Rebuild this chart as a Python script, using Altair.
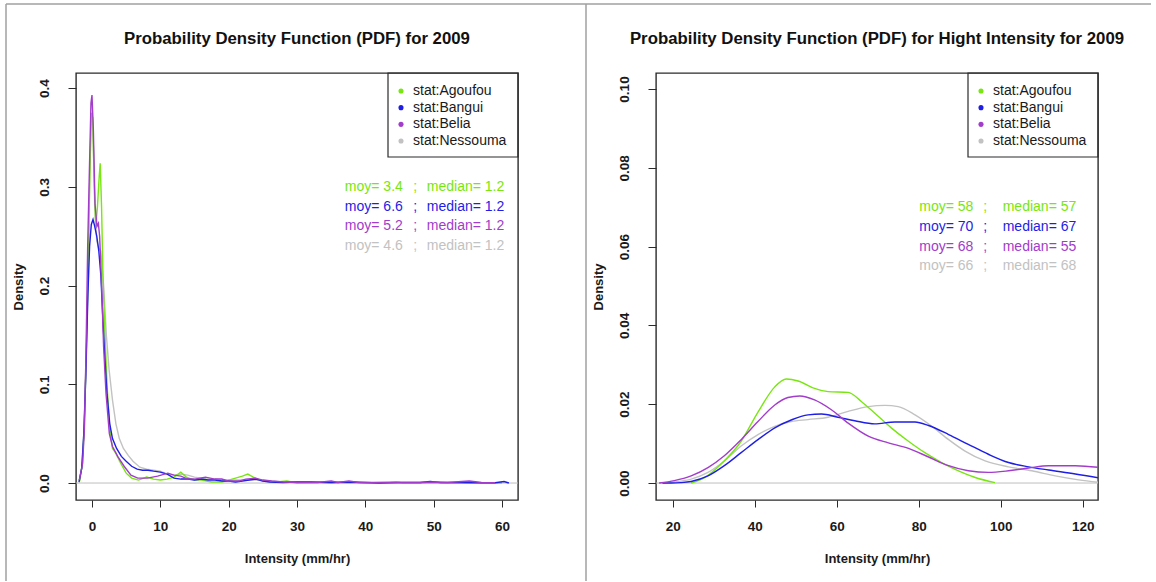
import altair as alt
import pandas as pd

FONT = "Liberation Sans"

stations = ["stat:Agoufou", "stat:Bangui", "stat:Belia", "stat:Nessouma"]
station_colors = ["#78E610", "#1E1EE6", "#A23CCB", "#C2C2C2"]

# ---- density of all 2009 rain intensities (mm/hr) ----
ago_all_x = [-1.8, -1.4, -1.1, -0.85, -0.6, -0.35, -0.1, 0.1, 0.35, 0.55, 0.8, 1.05, 1.2, 1.4, 1.6,
             1.9, 2.2, 2.6, 3.0, 3.5, 4.2, 5.0, 5.8, 6.8, 8.0, 9.0, 10.0, 11.0, 12.0, 13.0, 13.8,
             15.0, 16.0, 17.5, 19.0, 20.0, 21.0, 22.0, 22.8, 23.6, 25.0, 27.0, 28.5, 30.0, 35.0,
             40.0, 44.5, 45.5, 50.0, 55.0, 60.0]
ago_all_y = [0.002, 0.02, 0.06, 0.13, 0.2, 0.3, 0.375, 0.37, 0.3, 0.26, 0.28, 0.31, 0.324, 0.28, 0.21,
             0.15, 0.1, 0.055, 0.035, 0.03, 0.02, 0.01, 0.005, 0.003, 0.006, 0.004, 0.003, 0.004, 0.006,
             0.011, 0.006, 0.003, 0.003, 0.001, 0.001, 0.003, 0.005, 0.007, 0.009, 0.006, 0.002, 0.001,
             0.002, 0.0, 0.0005, 0.0, 0.001, 0.0, 0.0, 0.0, 0.0]

ban_all_x = [-1.9, -1.5, -1.2, -0.9, -0.6, -0.35, -0.1, 0.15, 0.4, 0.7, 1.0, 1.3, 1.6, 1.9, 2.2, 2.6,
             3.0, 3.6, 4.3, 5.0, 5.8, 6.6, 7.4, 8.2, 9.0, 10.0, 11.0, 12.0, 13.0, 14.0, 15.0, 16.0,
             17.0, 18.0, 19.0, 20.0, 21.0, 22.0, 23.0, 24.0, 25.0, 26.0, 28.0, 30.0, 32.0, 35.0, 38.0,
             40.0, 42.0, 45.0, 48.0, 49.5, 51.0, 54.0, 57.0, 59.0, 60.3, 61.0]
ban_all_y = [0.001, 0.015, 0.05, 0.11, 0.19, 0.24, 0.262, 0.267, 0.26, 0.25, 0.235, 0.21, 0.165, 0.125,
             0.09, 0.06, 0.045, 0.035, 0.027, 0.022, 0.017, 0.014, 0.013, 0.013, 0.012, 0.011, 0.009,
             0.005, 0.004, 0.004, 0.003, 0.004, 0.003, 0.003, 0.002, 0.002, 0.001, 0.002, 0.003, 0.004,
             0.002, 0.001, 0.0005, 0.001, 0.001, 0.0005, 0.001, 0.0005, 0.0, 0.0005, 0.0005, 0.0015,
             0.0005, 0.0005, 0.0003, 0.0003, 0.0015, 0.0]

bel_all_x = [-1.85, -1.37, -1.12, -0.88, -0.63, -0.39, -0.15, 0.0, 0.2, 0.44, 0.73, 0.93, 1.12, 1.41,
             1.7, 2.05, 2.54, 3.0, 3.76, 4.7, 5.7, 6.7, 8.1, 9.6, 11.1, 12.0, 13.0, 14.0, 15.0, 16.6,
             18.0, 19.0, 20.0, 21.5, 22.5, 23.9, 25.0, 26.3, 28.0, 30.0, 33.0, 35.0, 36.0, 37.6, 39.0,
             42.0, 45.0, 48.0, 50.0, 52.0, 55.2, 57.0, 59.0]
bel_all_y = [0.003, 0.02, 0.054, 0.13, 0.24, 0.314, 0.385, 0.393, 0.358, 0.283, 0.26, 0.263, 0.25, 0.2,
             0.138, 0.091, 0.05, 0.037, 0.027, 0.017, 0.008, 0.005, 0.005, 0.007, 0.01, 0.008, 0.007,
             0.004, 0.004, 0.006, 0.004, 0.004, 0.002, 0.002, 0.004, 0.005, 0.003, 0.002, 0.001, 0.0005,
             0.0005, 0.002, 0.0005, 0.002, 0.0005, 0.0005, 0.0005, 0.0005, 0.001, 0.0005, 0.002, 0.0005,
             0.0003]

nes_all_x = [-1.9, -1.5, -1.15, -0.85, -0.55, -0.3, -0.1, 0.1, 0.4, 0.7, 1.0, 1.3, 1.7, 2.1, 2.5, 3.0,
             3.5, 4.0, 4.6, 5.3, 6.0, 7.0, 8.0, 9.0, 10.0, 11.0, 12.0, 13.0, 14.0, 15.0, 16.0, 17.0,
             18.0, 19.0, 20.0, 22.0, 24.0, 26.0, 28.0, 30.0, 35.0, 40.0, 50.0, 60.0]
nes_all_y = [0.002, 0.015, 0.055, 0.13, 0.22, 0.32, 0.375, 0.37, 0.28, 0.245, 0.238, 0.235, 0.2, 0.15,
             0.115, 0.084, 0.06, 0.045, 0.035, 0.028, 0.022, 0.016, 0.014, 0.013, 0.012, 0.009, 0.008,
             0.009, 0.008, 0.006, 0.005, 0.004, 0.004, 0.003, 0.003, 0.003, 0.003, 0.002, 0.001, 0.001,
             0.0005, 0.0003, 0.0002, 0.0]

# ---- density of high-intensity events ----
ago_high_x = [24.5, 28.0, 32.0, 36.7, 40.8, 44.9, 47.7, 50.6, 54.6, 57.9, 62.8, 66.0, 69.3, 73.3,
              77.5, 81.5, 85.6, 89.7, 93.8, 98.6]
ago_high_y = [0.0, 0.0015, 0.005, 0.0106, 0.018, 0.0244, 0.0264, 0.0259, 0.024, 0.0232, 0.023,
              0.0207, 0.0177, 0.014, 0.0106, 0.0077, 0.0052, 0.0031, 0.0014, 0.0001]

ban_high_x = [17.5, 19.6, 22.0, 24.5, 28.6, 32.6, 36.7, 40.8, 44.9, 48.9, 53.0, 56.3, 60.3, 64.4,
              69.3, 74.2, 79.1, 82.4, 87.3, 92.1, 97.0, 101.9, 106.8, 111.7, 118.2, 124.5]
ban_high_y = [0.0, 0.0, 0.0001, 0.0004, 0.0018, 0.0044, 0.0077, 0.011, 0.014, 0.016, 0.0173, 0.0175,
              0.0167, 0.0158, 0.015, 0.0155, 0.0155, 0.0146, 0.0123, 0.0098, 0.0073, 0.0052, 0.0041,
              0.0033, 0.0023, 0.0012]

bel_high_x = [16.7, 20.4, 24.5, 28.6, 32.6, 36.7, 40.8, 44.9, 48.1, 51.0, 54.6, 58.7, 62.8, 67.7,
              72.6, 77.5, 82.4, 87.3, 92.1, 97.0, 101.9, 106.8, 111.7, 118.2, 124.5]
bel_high_y = [0.0, 0.0006, 0.0018, 0.0039, 0.0069, 0.011, 0.0156, 0.0198, 0.0217, 0.0221, 0.0211,
              0.0186, 0.0152, 0.0119, 0.0102, 0.0088, 0.0066, 0.0044, 0.0031, 0.0027, 0.0031, 0.0038,
              0.0044, 0.0044, 0.0039]

nes_high_x = [16.7, 20.4, 24.5, 28.6, 32.6, 36.7, 40.8, 44.9, 48.9, 53.0, 57.9, 62.8, 67.7, 71.8,
              75.0, 79.1, 83.2, 87.3, 91.3, 96.2, 101.9, 107.6, 113.3, 119.0, 124.5]
nes_high_y = [0.0, 0.0003, 0.001, 0.0027, 0.0056, 0.0094, 0.0123, 0.0144, 0.0156, 0.0161, 0.0167,
              0.0182, 0.0194, 0.0197, 0.0194, 0.0173, 0.0144, 0.011, 0.0081, 0.0056, 0.0041, 0.0031,
              0.0018, 0.0008, 0.0001]

# ---- summary statistics printed on each panel ----
moy_all = [3.4, 6.6, 5.2, 4.6]
med_all = [1.2, 1.2, 1.2, 1.2]
moy_high = [58, 70, 68, 66]
med_high = [57, 67, 55, 68]

# drawing order of the curves (last one on top)
draw_order = [3, 0, 1, 2]

W, H = 442, 427
LEG_W, LEG_H = 130, 84
LEG_ROW0, LEG_ROW_STEP = 18, 16.67


def curves_table(series):
    rows = []
    for k in draw_order:
        xs, ys = series[k]
        for x, y in zip(xs, ys):
            rows.append({"station": stations[k], "x": x, "y": y})
    return pd.DataFrame(rows)


def notes_table(moy, med, y_top, y_step):
    return pd.DataFrame({
        "station": stations,
        "moy": [f"moy= {v}" for v in moy],
        "med": [f"median= {v}" for v in med],
        "ny": [y_top - i * y_step for i in range(len(stations))],
    })


def legend_table(ydom):
    # legend rows sit at fixed pixel offsets from the top of the plot box,
    # expressed in the panel's own y units
    span = ydom[1] - ydom[0]
    return pd.DataFrame({
        "station": stations,
        "ly": [ydom[1] - (LEG_ROW0 + i * LEG_ROW_STEP) / H * span for i in range(len(stations))],
    })


color_scale = alt.Scale(domain=stations, range=station_colors)
one_row = alt.Data(values=[{}])


def panel(curves, notes, xdom, ydom, xticks, yticks, yfmt, note_x, title, interp, decor):
    xs = alt.Scale(domain=xdom, nice=False, zero=False)
    ys = alt.Scale(domain=ydom, nice=False, zero=False)
    x_axis = alt.Axis(values=xticks, format="d", tickSize=7, labelPadding=23,
                      labelBaseline="alphabetic", labelFlush=False, labelOverlap=False,
                      titleX=W / 2, titleY=62, titleBaseline="alphabetic", titleAlign="center")
    y_axis = alt.Axis(values=yticks, format=yfmt, tickSize=8, labelPadding=20,
                      labelAngle=270, labelAlign="center", labelBaseline="alphabetic",
                      labelFlush=False, labelOverlap=False,
                      titleX=-54, titleY=H / 2, titleAngle=270, titleAlign="center",
                      titleBaseline="alphabetic")
    col = alt.Color("station:N", scale=color_scale, legend=None)

    zero_line = alt.Chart(one_row).mark_rule(color="#BEBEBE", strokeWidth=1).encode(
        x=alt.value(0), x2=alt.value(W),
        y=alt.YDatum(0, type="quantitative", scale=ys, axis=y_axis, title="Density"),
    )

    lines = alt.Chart(curves).mark_line(strokeWidth=1.4, clip=True, interpolate=interp).encode(
        x=alt.X("x:Q", scale=xs, title="Intensity (mm/hr)", axis=x_axis),
        y=alt.Y("y:Q", scale=ys, title="Density", axis=y_axis),
        color=col,
        detail="station:N",
    )

    note_base = alt.Chart(notes).encode(
        y=alt.Y("ny:Q", scale=ys, title="Density", axis=y_axis),
        color=col,
    )
    moy_txt = note_base.mark_text(font=FONT, fontSize=14, align="left", baseline="middle").encode(
        x=alt.XDatum(note_x[0], type="quantitative", scale=xs, axis=x_axis, title="Intensity (mm/hr)"),
        text="moy:N")
    sep_txt = note_base.mark_text(font=FONT, fontSize=14, align="center", baseline="middle").encode(
        x=alt.XDatum(note_x[1], type="quantitative", scale=xs, axis=x_axis, title="Intensity (mm/hr)"),
        text=alt.value(";"))
    med_txt = note_base.mark_text(font=FONT, fontSize=14, align="left", baseline="middle").encode(
        x=alt.XDatum(note_x[2], type="quantitative", scale=xs, axis=x_axis, title="Intensity (mm/hr)"),
        text="med:N")

    # legend in the top-right corner of the plot box
    leg = alt.Chart(legend_table(ydom)).encode(
        y=alt.Y("ly:Q", scale=ys, title="Density", axis=y_axis))
    leg_frame = alt.Chart(one_row).mark_rect(fillOpacity=0, stroke="#2b2b2b", strokeWidth=1.2).encode(
        x=alt.value(W - LEG_W), x2=alt.value(W), y=alt.value(0), y2=alt.value(LEG_H))
    leg_dots = leg.mark_circle(size=26, opacity=1).encode(x=alt.value(W - 117), color=col)
    leg_text = leg.mark_text(font=FONT, fontSize=14, align="left", baseline="middle",
                             color="#1a1a1a").encode(x=alt.value(W - 105), text="station:N")

    return alt.layer(
        *decor, zero_line, lines, moy_txt, sep_txt, med_txt, leg_frame, leg_dots, leg_text
    ).properties(
        width=W, height=H,
        title=alt.TitleParams(title, font=FONT, fontSize=16.8, fontWeight="bold", color="#111111",
                              anchor="middle", baseline="alphabetic", offset=-57.5),
    )


# page frame lines around and between the two panels
frame_left = [
    alt.Chart(one_row).mark_rule(color="#a0a0a0", strokeWidth=1.5).encode(
        x=alt.value(-70), y=alt.value(-69), y2=alt.value(508)),
    alt.Chart(one_row).mark_rule(color="#a0a0a0", strokeWidth=1.5).encode(
        x=alt.value(-70), x2=alt.value(1075), y=alt.value(-69)),
]
frame_right = [
    alt.Chart(one_row).mark_rule(color="#a0a0a0", strokeWidth=1.5).encode(
        x=alt.value(-70), y=alt.value(-69), y2=alt.value(508)),
]

left = panel(
    curves_table([(ago_all_x, ago_all_y), (ban_all_x, ban_all_y),
                  (bel_all_x, bel_all_y), (nes_all_x, nes_all_y)]),
    notes_table(moy_all, med_all, 0.30, 0.02),
    [-2.34, 62.34], [-0.0172, 0.4154],
    [0, 10, 20, 30, 40, 50, 60], [0.0, 0.1, 0.2, 0.3, 0.4], ".1f",
    [37.0, 47.3, 49.0],
    "Probability Density Function (PDF) for 2009",
    "linear", frame_left,
)

right = panel(
    curves_table([(ago_high_x, ago_high_y), (ban_high_x, ban_high_y),
                  (bel_high_x, bel_high_y), (nes_high_x, nes_high_y)]),
    notes_table(moy_high, med_high, 0.070, 0.005),
    [15.93, 123.73], [-0.00431, 0.10406],
    [20, 40, 60, 80, 100, 120], [0.0, 0.02, 0.04, 0.06, 0.08, 0.10], ".2f",
    [80.15, 96.24, 100.49],
    "Probability Density Function (PDF) for Hight Intensity for 2009",
    "monotone", frame_right,
)

chart = alt.hconcat(left, right, spacing=138, bounds="flush").properties(
    padding={"left": 4, "top": 2, "right": 0, "bottom": 0},
    background="white",
).configure_view(
    stroke="#2b2b2b", strokeWidth=1.4,
).configure_axis(
    grid=False, domain=False,
    labelFont=FONT, labelFontSize=13.5, labelFontWeight="bold", labelColor="#1a1a1a",
    titleFont=FONT, titleFontSize=13, titleFontWeight="bold", titleColor="#1a1a1a",
    tickColor="#2b2b2b", tickWidth=1,
)

chart.save("out.html", embed_options={"renderer": "svg", "actions": False})
